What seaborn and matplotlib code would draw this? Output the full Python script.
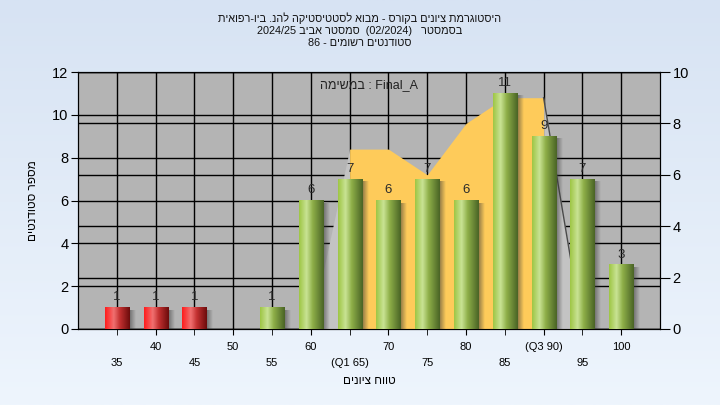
import numpy as np
import matplotlib
matplotlib.use("Agg")
import matplotlib.pyplot as plt
from matplotlib.colors import LinearSegmentedColormap
import seaborn as sns

# grade bins and number of students in each
grades = ["35", "40", "45", "50", "55", "60", "65", "70", "75", "80", "85", "90", "95", "100"]
counts = [1, 1, 1, 0, 1, 6, 7, 6, 7, 6, 11, 9, 7, 3]
tick_labels = ["35", "40", "45", "50", "55", "60", "(Q1 65)", "70", "75", "80", "85", "(Q3 90)", "95", "100"]
pass_grade = 55

# distribution curve on the right axis (bin index, value)
curve_idx = [5, 6, 7, 8, 9, 10, 11, 12]
curve_vals = [0, 7, 7, 6, 8, 9, 9, 0]


def heb(s):
    # matplotlib has no bidi, so hebrew is written in visual order
    return s[::-1]


plt.rcParams["font.family"] = ["Liberation Sans", "DejaVu Sans"]

fig = plt.figure(figsize=(7.2, 4.05), dpi=100)

# light blue gradient background
bg = fig.add_axes([0, 0, 1, 1], zorder=-10)
grad_v = np.linspace(0, 1, 256).reshape(-1, 1)
bg_cmap = LinearSegmentedColormap.from_list("bg", ["#d7e3f3", "#eef5fd"])
bg.imshow(grad_v, cmap=bg_cmap, aspect="auto", extent=(0, 1, 0, 1))
bg.axis("off")

pos = [78 / 720, 1 - 329 / 405, (660 - 78) / 720, (329 - 72) / 405]
ax0 = fig.add_axes(pos)
ax0.set_facecolor("#b4b4b4")
ax1 = ax0.twinx()
ax2 = ax0.twinx()

# area under curve: grey outside quartiles, yellow in between
ax1.fill_between(curve_idx[:2], curve_vals[:2], color="#c3c3c3", lw=0, zorder=1)
ax1.fill_between(curve_idx[-2:], curve_vals[-2:], color="#c3c3c3", lw=0, zorder=1)
ax1.fill_between(curve_idx[1:-1], curve_vals[1:-1], color="#fecb5a", lw=0, zorder=1.1)
sns.lineplot(x=curve_idx[-2:], y=curve_vals[-2:], ax=ax1, color="#4a4a4a", lw=1, zorder=1.2)

sns.barplot(x=grades, y=counts, order=grades, ax=ax2, width=0.62, color="#9cc545")

green = LinearSegmentedColormap.from_list(
    "g", [(0, "#9ec645"), (0.3, "#c9e394"), (0.55, "#8eaf48"), (1, "#4a6426")])
red = LinearSegmentedColormap.from_list(
    "r", [(0, "#ff1c1c"), (0.35, "#f07070"), (0.6, "#c23030"), (1, "#6c0c0c")])
grad_h = np.linspace(0, 1, 64).reshape(1, -1)
shadow = np.zeros((1, 32, 4))
shadow[..., :3] = 0.22
shadow[..., 3] = np.linspace(0.6, 0, 32)

for patch, g, c in zip(ax2.patches, grades, counts):
    patch.set_visible(False)
    if c <= 0:
        continue
    x0, w, h = patch.get_x(), patch.get_width(), patch.get_height()
    ax2.imshow(shadow, extent=(x0 + w, x0 + w + 0.17, 0, h - 0.12),
               aspect="auto", interpolation="bilinear", zorder=2)
    cmap = red if int(g) < pass_grade else green
    ax2.imshow(grad_h, cmap=cmap, extent=(x0, x0 + w, 0, h),
               aspect="auto", interpolation="bilinear", zorder=3)
    ax2.annotate(str(c), (x0 + w / 2, h), xytext=(0, 3), textcoords="offset points",
                 ha="center", va="bottom", fontsize=9.5, color="#2a2a2a", zorder=4)

# axes limits and ticks
ax0.set_xlim(-1, 14)
ax0.set_ylim(0, 12)
ax1.set_ylim(0, 10)
ax2.set_ylim(0, 12)

ax0.set_xticks(range(1, 14, 2))
ax0.set_xticklabels(tick_labels[1::2])
ax0.set_xticks(range(0, 14, 2), minor=True)
ax0.set_xticklabels(tick_labels[0::2], minor=True)
ax0.tick_params(axis="x", which="major", length=4, pad=5, labelsize=8)
ax0.tick_params(axis="x", which="minor", length=4, pad=17, labelsize=8)
ax0.set_yticks(range(0, 13, 2))
ax0.tick_params(axis="y", length=5, labelsize=10.5, pad=2)
ax1.set_yticks(range(0, 11, 2))
ax1.tick_params(axis="y", length=7, labelsize=10.5, pad=2)
ax2.set_yticks([])
ax2.set_xlabel("")
ax2.set_ylabel("")

ax0.set_axisbelow(True)
ax1.set_axisbelow(True)
ax0.grid(axis="y", color="black", lw=1)
ax0.grid(axis="x", which="both", color="black", lw=1)
ax1.grid(axis="y", color="black", lw=1)

for a in (ax0, ax1, ax2):
    for s in a.spines.values():
        s.set_color("black")
for s in ax2.spines.values():
    s.set_visible(False)

ax2.text(0.5, 0.95, heb("במשימה") + " : Final_A", transform=ax2.transAxes,
         ha="center", va="center", fontsize=9, color="#222222")

ax0.set_xlabel(heb("טווח ציונים"), fontsize=8.5, labelpad=5)
ax0.set_ylabel(heb("מספר סטודנטים"), fontsize=8.5, labelpad=9)

title_lines = [
    heb("היסטוגרמת ציונים בקורס - מבוא לסטטיסטיקה להנ. ביו-רפואית"),
    "2024/25 " + heb("סמסטר אביב") + "  (02/2024)   " + heb("בסמסטר"),
    "86 - " + heb("סטודנטים רשומים"),
]
for i, line in enumerate(title_lines):
    fig.text(0.5, 1 - (18 + 12.5 * i) / 405, line, ha="center", va="center",
             fontsize=7.8, color="#111111")

fig.savefig("out.png", dpi=100)
